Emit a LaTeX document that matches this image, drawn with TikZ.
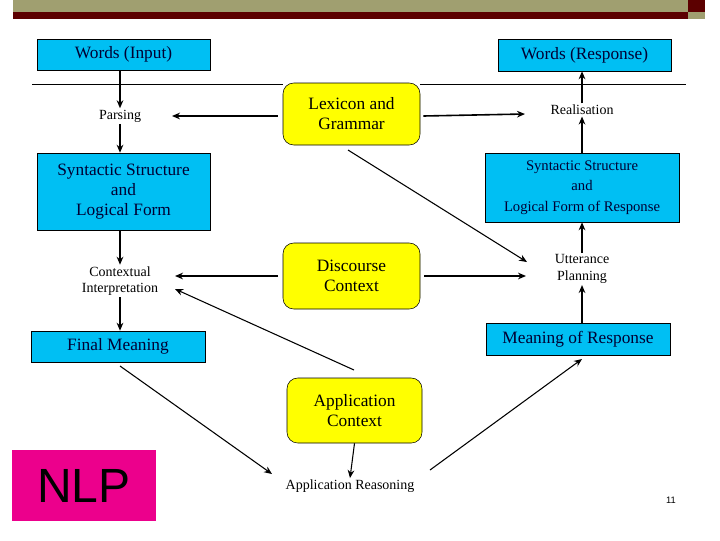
\documentclass[tikz,border=0pt]{standalone}
\usepackage{fontspec}
\setmainfont{Liberation Serif}
\newfontfamily\sansf{Liberation Sans}
\usetikzlibrary{arrows.meta}
\definecolor{cy}{HTML}{00BFF3}
\definecolor{yl}{HTML}{FFFF00}
\definecolor{ol}{HTML}{A09F70}
\definecolor{dr}{HTML}{5C0000}
\definecolor{nv}{HTML}{000033}
\tikzset{
 bluebox/.style={draw, fill=cy, text=nv, align=center, inner sep=0pt, font=\fontsize{13}{15}\selectfont},
 yelbox/.style={draw, fill=yl, rounded corners=8pt, align=center, inner sep=0pt, font=\fontsize{13}{15}\selectfont},
 lbl/.style={align=center, font=\fontsize{10.5}{12.5}\selectfont, inner sep=1pt},
 arr/.style={-{Stealth[length=6pt,width=5pt]}, line width=1.2pt},
 thinarr/.style={-{Stealth[length=6pt,width=5pt]}, line width=0.8pt}
}
\begin{document}
\begin{tikzpicture}[x=0.75pt,y=-0.75pt]
\useasboundingbox (0,0) rectangle (720,540);
\fill[ol] (13,0) rectangle (688,12);
\fill[dr] (13,12) rectangle (688,19);
\fill[dr] (688,0) rectangle (705,12);
\fill[ol] (688,12) rectangle (705,19);
\draw[line width=0.5pt] (32,84) -- (283,84);
\draw[line width=0.5pt] (420,84) -- (686,84);

\node[bluebox, minimum width=173*0.75pt, minimum height=31*0.75pt] (wi) at (123.5,54.5) {Words (Input)};
\node[bluebox, minimum width=173*0.75pt, minimum height=32*0.75pt] (wr) at (584.5,55) {Words (Response)};
\node[yelbox, minimum width=137*0.75pt, minimum height=62*0.75pt] (lex) at (351.5,114) {Lexicon and\\Grammar};
\node[lbl] (pa) at (120,116) {Parsing};
\node[lbl] (re) at (582,110) {Realisation};
\node[bluebox, minimum width=173*0.75pt, minimum height=77*0.75pt] (ss) at (123.5,191.5) {Syntactic Structure\\and\\Logical Form};
\node[bluebox, font=\fontsize{11}{15.5}\selectfont, minimum width=194*0.75pt, minimum height=69*0.75pt] (sr) at (582,187.5) {Syntactic Structure\\and\\Logical Form of Response};
\node[yelbox, minimum width=137*0.75pt, minimum height=66*0.75pt] (dc) at (351.5,276) {Discourse\\Context};
\node[lbl] (ci) at (120,281) {Contextual\\Interpretation};
\node[lbl] (up) at (582,269) {Utterance\\Planning};
\node[bluebox, minimum width=174*0.75pt, minimum height=31*0.75pt] (fm) at (118,346.5) {Final Meaning};
\node[bluebox, minimum width=184*0.75pt, minimum height=32*0.75pt] (mr) at (578,339) {Meaning of Response};
\node[yelbox, minimum width=135*0.75pt, minimum height=65*0.75pt] (ac) at (354.5,410.5) {Application\\Context};
\node[lbl] (ar) at (350,486) {Application Reasoning};
\node[fill=magenta, minimum width=144*0.75pt, minimum height=71*0.75pt, inner sep=0pt, font=\sansf\fontsize{36}{40}\selectfont] (nlp) at (84,485.5) {NLP};
\node[font=\sansf\fontsize{7}{8}\selectfont] (pg) at (671,500) {11};

\draw[arr] (wi.south -| pa) -- (pa.north);
\draw[arr] (pa.south) -- (ss.north -| pa);
\draw[arr] (lex.west |- pa) ++(-5,0) -- (172,116);
\draw[arr] (lex.east |- pa) ++(3,0) -- (525,114);
\draw[arr] (re.north) -- (wr.south -| re);
\draw[arr] (sr.north -| re) -- (re.south);
\draw[arr] (up.north) -- (sr.south -| up);
\draw[arr] (mr.north -| up) -- (up.south);
\draw[arr] (ss.south -| ci) -- (ci.north);
\draw[arr] (ci.south) -- (fm.north -| ci);
\draw[arr] (278,276) -- (175,276);
\draw[arr] (424,276) -- (526,276);
\draw[thinarr] (348,150) -- (527,262);
\draw[thinarr] (354,370) -- (175,289);
\draw[thinarr] (120,366) -- (272,474);
\draw[thinarr] (ac.south) -- (ar.north);
\draw[thinarr] (430,470) -- (582,359);
\end{tikzpicture}
\end{document}
